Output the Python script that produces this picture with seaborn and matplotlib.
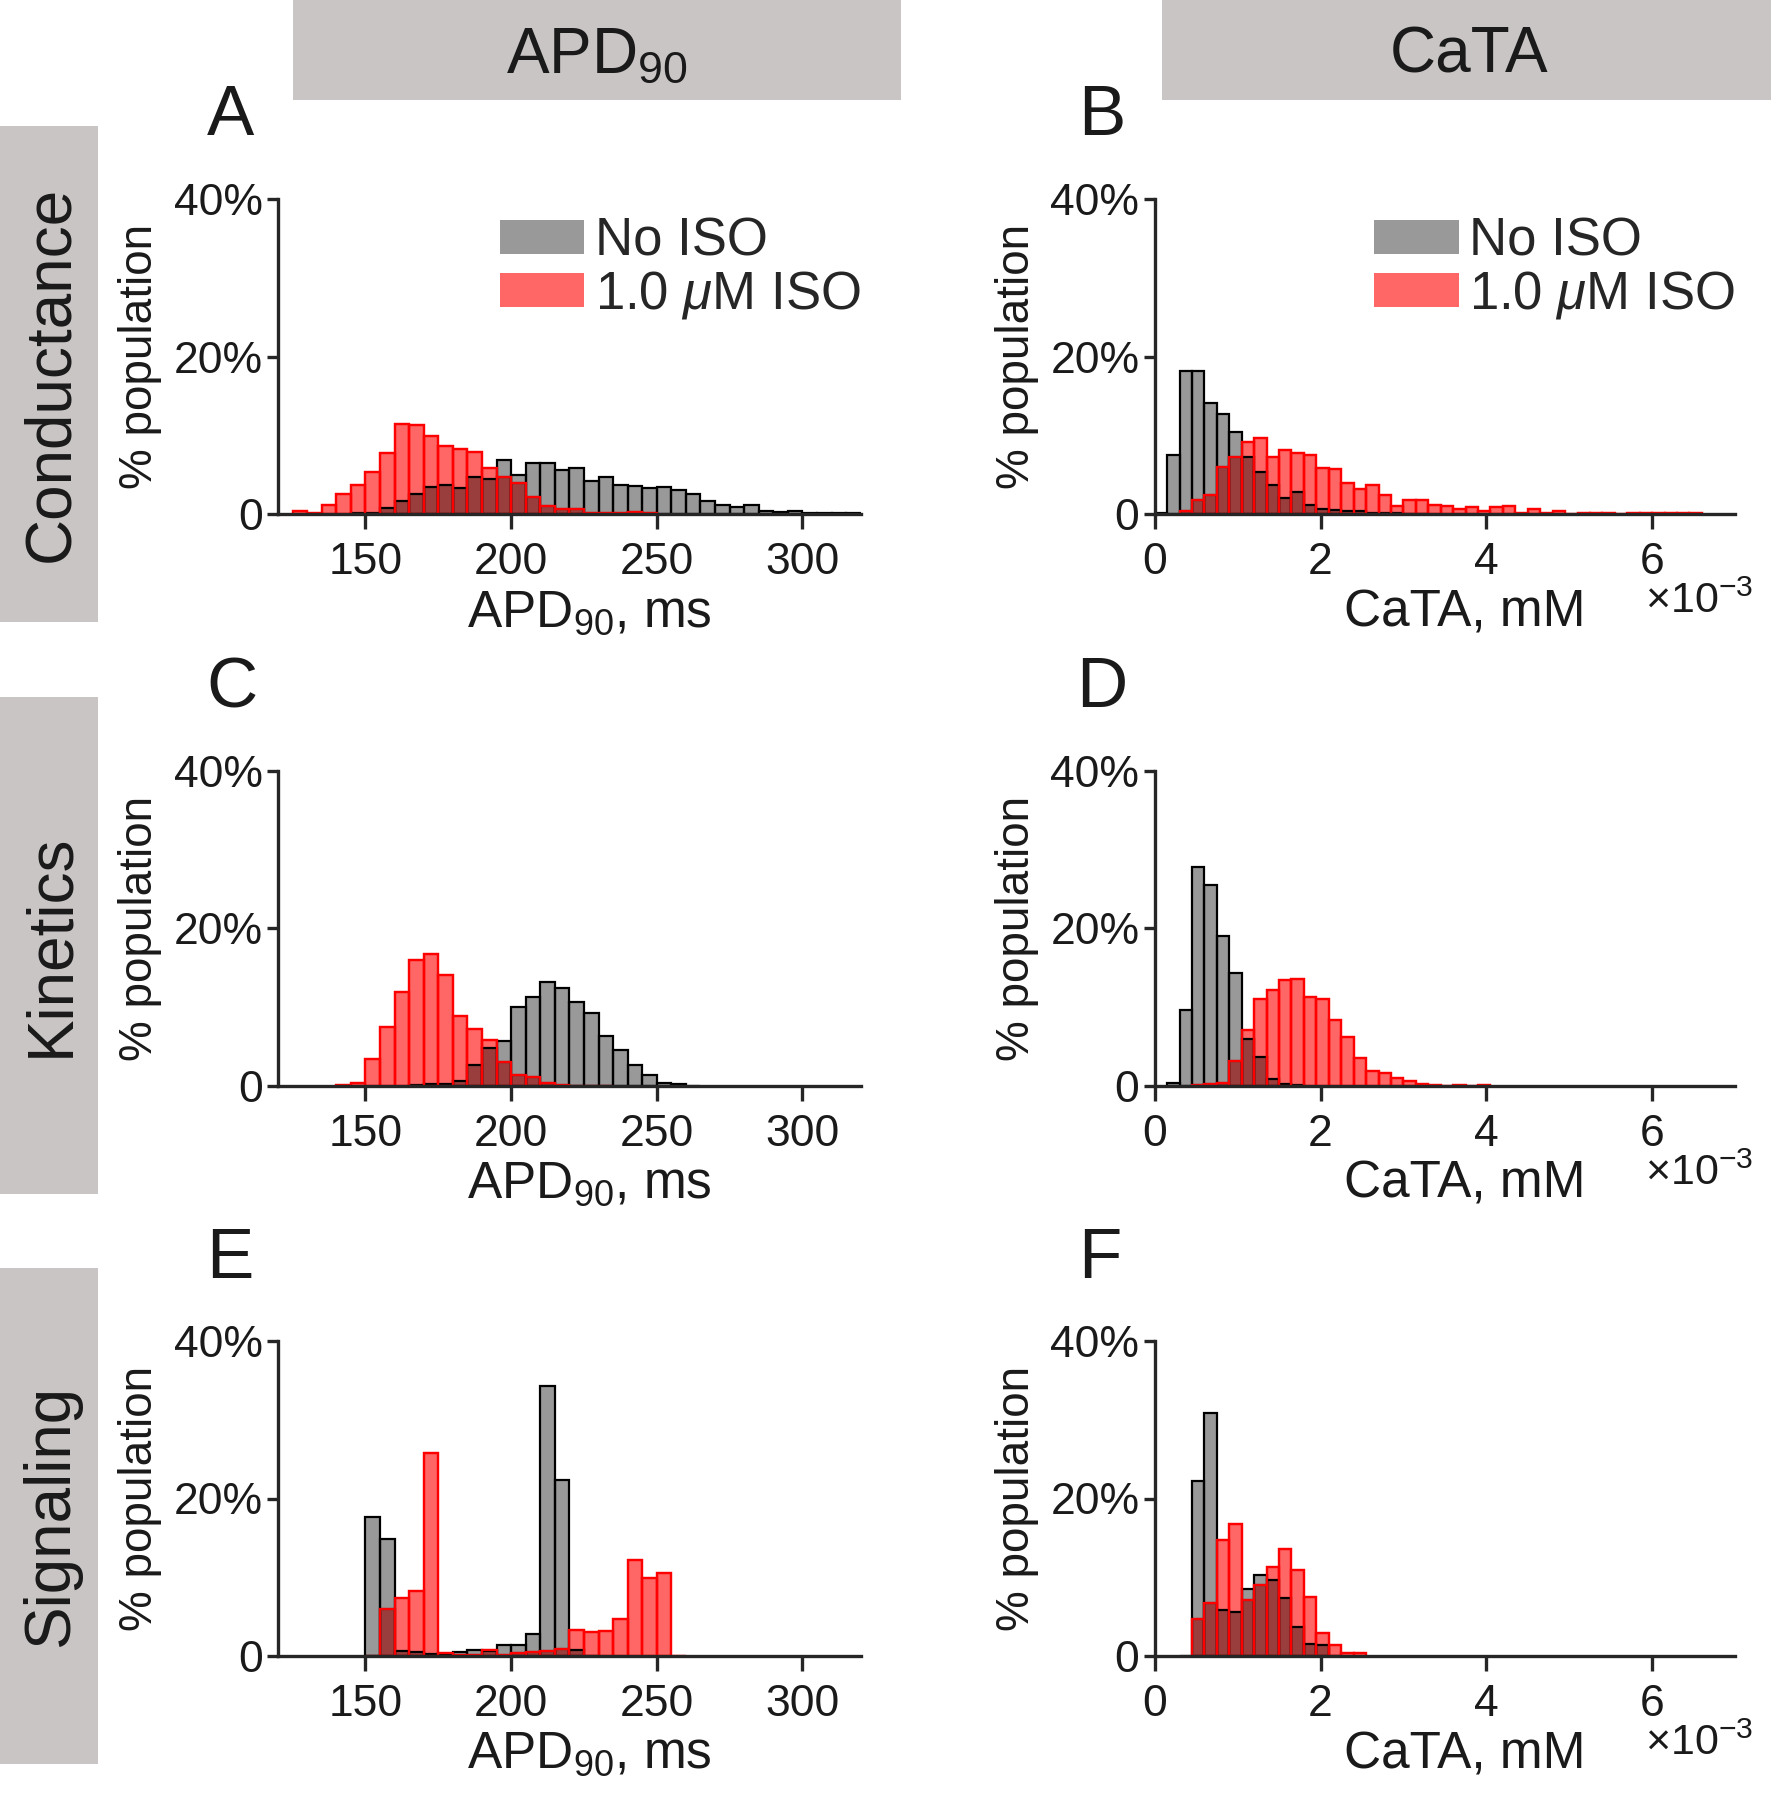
import numpy as np
import matplotlib
matplotlib.use("Agg")
import matplotlib.pyplot as plt
from matplotlib.patches import Rectangle, Patch
from matplotlib.ticker import FuncFormatter
import seaborn as sns

# histogram heights (% population)
# APD90 bins are 5 ms wide, CaTA bins 0.15e-3 mM wide
apd_width = 5
cata_width = 0.15e-3

# A - conductance, APD90
a_noiso_start = 145
a_noiso = [0.1, 0.2, 0.8, 1.7, 2.6, 3.4, 3.7, 3.3, 4.7, 4.45, 6.85, 4.9, 6.5, 6.5,
           5.6, 5.9, 4.15, 4.7, 3.7, 3.6, 3.3, 3.5, 3.05, 2.5, 1.6, 1.1, 0.9, 1.15,
           0.35, 0.3, 0.4, 0.2, 0.2, 0.1, 0.1]
a_iso_start = 125
a_iso = [0.4, 0.1, 1.2, 2.6, 3.7, 5.4, 7.7, 11.5, 11.3, 9.9, 8.6, 8.25, 7.9, 5.8,
         4.7, 3.9, 2.2, 1.0, 0.6, 0.7, 0.15, 0.15, 0.15, 0.25, 0.15]

# B - conductance, CaTA
b_noiso_start = 0.0
b_noiso = [0.1, 7.45, 18.2, 18.2, 14.1, 12.7, 10.4, 7.2, 5.4, 3.7, 2.0, 2.8, 1.2,
           0.7, 0.55, 0.4, 0.35, 0.15, 0.1, 0.1, 0.05, 0.05]
b_iso_start = 0.30e-3
b_iso = [0.4, 1.8, 2.4, 6.0, 7.2, 9.2, 9.6, 7.2, 8.1, 7.8, 7.45, 5.9, 5.7, 4.0,
         3.2, 3.7, 2.4, 1.05, 1.8, 1.8, 1.1, 1.0, 0.7, 0.9, 0.4, 0.85, 1.0, 0.2,
         0.7, 0.2, 0.4, 0.05, 0.15, 0.15, 0.1, 0.05, 0.15, 0.2, 0.15, 0.1, 0.1, 0.1]

# C - kinetics, APD90
c_noiso_start = 165
c_noiso = [0.1, 0.2, 0.3, 0.6, 2.65, 4.8, 5.7, 10.0, 11.3, 13.2, 12.5, 10.7, 9.3,
           6.3, 4.6, 2.65, 1.4, 0.4, 0.3, 0.05]
c_iso_start = 140
c_iso = [0.1, 0.4, 3.4, 7.5, 11.9, 16.0, 16.8, 14.1, 8.9, 7.2, 5.8, 3.0, 1.45,
         1.15, 0.4, 0.1, 0.05, 0.05, 0.05]

# D - kinetics, CaTA
d_noiso_start = 0.15e-3
d_noiso = [0.4, 9.6, 27.8, 25.5, 19.1, 14.4, 6.0, 3.7, 0.85, 0.2, 0.1]
d_iso_start = 0.45e-3
d_iso = [0.1, 0.2, 0.4, 3.2, 7.1, 11.0, 12.2, 13.5, 13.6, 11.3, 11.1, 8.4, 6.25,
         3.6, 1.9, 1.7, 1.0, 0.65, 0.2, 0.1, 0.05, 0.1, 0.05, 0.1]

# E - signaling, APD90
e_noiso_start = 150
e_noiso = [17.7, 14.9, 0.65, 0.55, 0.2, 0.2, 0.45, 0.7, 0.6, 1.35, 1.35, 2.85,
           34.3, 22.3, 0.7, 0.05]
e_iso_start = 150
e_iso = [0.05, 6.0, 7.4, 8.2, 25.8, 0.35, 0.1, 0.1, 0.7, 0.1, 0.35, 0.5, 0.6,
         0.95, 3.3, 3.1, 3.2, 4.7, 12.25, 9.9, 10.6, 0.05]

# F - signaling, CaTA
f_noiso_start = 0.30e-3
f_noiso = [0.05, 22.2, 30.8, 5.8, 5.6, 8.5, 10.3, 9.7, 7.4, 3.7, 1.5, 1.4, 0.05]
f_iso_start = 0.45e-3
f_iso = [4.7, 6.7, 14.7, 16.7, 7.05, 9.0, 11.3, 13.6, 10.9, 7.5, 2.9, 1.4, 0.35, 0.35]

col_titles = ["APD$_{90}$", "CaTA"]
row_titles = ["Conductance", "Kinetics", "Signaling"]
panel_letters = ["A", "B", "C", "D", "E", "F"]
legend_labels = ["No ISO", "1.0 $\\mu$M ISO"]
apd_ticks = [150, 200, 250, 300]
cata_ticks = [0, 0.002, 0.004, 0.006]
y_ticks = [0, 20, 40]
y_ticklabels = ["0", "20%", "40%"]

sns.set_style("ticks")
plt.rcParams["font.family"] = ["Liberation Sans", "DejaVu Sans"]
plt.rcParams["mathtext.fontset"] = "custom"
plt.rcParams["mathtext.rm"] = "Liberation Sans"
plt.rcParams["mathtext.it"] = "Liberation Sans:italic"
plt.rcParams["mathtext.bf"] = "Liberation Sans:bold"

TXT = "#1a1a1a"
BOX = "#cac5c5"


def draw_hist(ax, start, width, heights, **kw):
    # one weighted observation per bin, at the bin centre
    n = len(heights)
    centers = start + width * (np.arange(n) + 0.5)
    sns.histplot(x=centers, weights=np.asarray(heights, dtype=float), bins=n,
                 binrange=(start, start + width * n), ax=ax, **kw)


fig = plt.figure(figsize=(17.71, 18), dpi=100)

col_left = [0.157, 0.652]
col_w = [0.329, 0.3277]
row_bottom = [0.7144, 0.3967, 0.080]
ax_h = 0.175

panels = [
    (a_noiso_start, a_noiso, a_iso_start, a_iso),
    (b_noiso_start, b_noiso, b_iso_start, b_iso),
    (c_noiso_start, c_noiso, c_iso_start, c_iso),
    (d_noiso_start, d_noiso, d_iso_start, d_iso),
    (e_noiso_start, e_noiso, e_iso_start, e_iso),
    (f_noiso_start, f_noiso, f_iso_start, f_iso),
]

for i, (ns, nv, is_, iv) in enumerate(panels):
    r, c = divmod(i, 2)
    ax = fig.add_axes([col_left[c], row_bottom[r], col_w[c], ax_h])
    width = apd_width if c == 0 else cata_width
    draw_hist(ax, is_, width, iv, color="red", alpha=0.6, edgecolor="red", linewidth=1.6)
    draw_hist(ax, ns, width, nv, color="black", alpha=0.4, edgecolor="black", linewidth=1.6)
    draw_hist(ax, is_, width, iv, fill=False, color="red", alpha=1, linewidth=1.6)

    ax.set_ylim(0, 40)
    ax.set_yticks(y_ticks)
    ax.set_yticklabels(y_ticklabels)
    if c == 0:
        ax.set_xlim(120, 320)
        ax.set_xticks(apd_ticks)
        ax.set_xlabel("APD$_{90}$, ms", fontsize=37, color=TXT)
    else:
        ax.set_xlim(0, 0.007)
        ax.set_xticks(cata_ticks)
        ax.xaxis.set_major_formatter(FuncFormatter(lambda v, p: f"{v * 1e3:g}"))
        ax.set_xlabel("CaTA, mM", fontsize=37, color=TXT)
        ax.text(0.845, -0.315, "$\\times10^{-3}$", transform=ax.transAxes,
                fontsize=31, color=TXT, ha="left", va="baseline")
    ax.xaxis.set_label_coords(0.535, -0.235)
    ax.set_ylabel("% population", fontsize=33, color=TXT, va="center")
    ax.yaxis.set_label_coords(-0.237, 0.5)

    sns.despine(ax=ax)
    for sp in ["left", "bottom"]:
        ax.spines[sp].set_linewidth(2.4)
        ax.spines[sp].set_color("#262626")
    ax.tick_params(axis="x", length=11, width=2.4, pad=9, labelsize=32,
                   color="#262626", labelcolor=TXT)
    ax.tick_params(axis="y", length=8, width=2.4, pad=3, labelsize=32,
                   color="#262626", labelcolor=TXT)

    if r == 0:
        handles = [Patch(facecolor=(0, 0, 0, 0.4), edgecolor="none"),
                   Patch(facecolor=(1, 0, 0, 0.6), edgecolor="none")]
        ax.legend(handles, legend_labels, loc="upper right", bbox_to_anchor=(1.0, 0.945),
                  frameon=False, fontsize=38, borderpad=0, borderaxespad=0,
                  handlelength=1.6, handleheight=0.62, handletextpad=0.2,
                  labelspacing=0.05)

# header boxes
fig.add_artist(Rectangle((0.1654, 0.9444), 0.3434, 0.0556, transform=fig.transFigure,
                         facecolor=BOX, edgecolor="none"))
fig.add_artist(Rectangle((0.6561, 0.9444), 0.3439, 0.0556, transform=fig.transFigure,
                         facecolor=BOX, edgecolor="none"))
fig.text(0.337, 0.969, col_titles[0], fontsize=46, ha="center", va="center", color=TXT)
fig.text(0.8295, 0.969, col_titles[1], fontsize=46, ha="center", va="center", color=TXT)

# row boxes
row_box = [(0.6544, 0.93), (0.3367, 0.6128), (0.02, 0.2956)]
for (y0, y1), name in zip(row_box, row_titles):
    fig.add_artist(Rectangle((0, y0), 0.0553, y1 - y0, transform=fig.transFigure,
                             facecolor=BOX, edgecolor="none"))
    fig.text(0.029, (y0 + y1) / 2, name, fontsize=46, rotation=90,
             ha="center", va="center", color=TXT)

# panel letters
letter_pos = [(0.13, 0.925), (0.622, 0.925), (0.131, 0.607), (0.622, 0.607),
              (0.13, 0.29), (0.621, 0.29)]
for (x, y), lt in zip(letter_pos, panel_letters):
    fig.text(x, y, lt, fontsize=51, ha="center", va="baseline", color=TXT)

fig.savefig("out.png", dpi=100)
